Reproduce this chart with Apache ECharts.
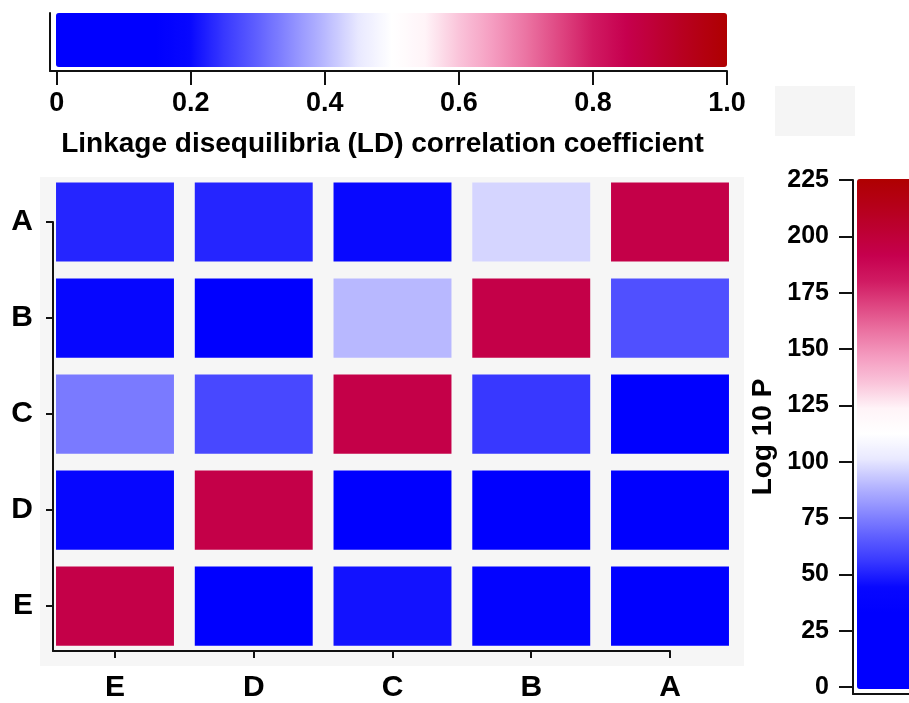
<!DOCTYPE html>
<html>
<head>
<meta charset="utf-8">
<script src="https://cdn.jsdelivr.net/npm/echarts@6/dist/echarts.min.js"></script>
<style>
html,body{margin:0;padding:0;background:#ffffff;}
#chart{width:909px;height:703px;}
</style>
</head>
<body>
<div id="chart"></div>
<script>
// ---- data ----
const xCategories = ['E', 'D', 'C', 'B', 'A'];
const yCategories = ['A', 'B', 'C', 'D', 'E'];
// LD correlation coefficient, rows follow yCategories (top to bottom), columns follow xCategories
const ldRowA = [0.23, 0.23, 0.20, 0.43, 0.86];
const ldRowB = [0.19, 0.12, 0.40, 0.86, 0.28];
const ldRowC = [0.33, 0.27, 0.86, 0.25, 0.10];
const ldRowD = [0.19, 0.86, 0.14, 0.12, 0.08];
const ldRowE = [0.86, 0.10, 0.21, 0.17, 0.06];
const ldRows = [ldRowA, ldRowB, ldRowC, ldRowD, ldRowE];
const ldTicks = [0, 0.2, 0.4, 0.6, 0.8, 1.0];
const ldTickLabels = ['0', '0.2', '0.4', '0.6', '0.8', '1.0'];
const logPTicks = [0, 25, 50, 75, 100, 125, 150, 175, 200, 225];
const colorScale = [
  '#0000ff', '#0000ff', '#0000ff', '#0000ff', '#0808ff', '#3838ff', '#6060ff',
  '#8c8cff', '#b8b8ff', '#e8e8ff', '#ffffff', '#fff4f8', '#fac4da', '#f59dc1',
  '#eb74a3', '#df4782', '#d01a62', '#c6004e', '#bd0032', '#b50018', '#af0000'
];

const cells = [];
ldRows.forEach(function (row, yi) {
  row.forEach(function (v, xi) { cells.push([xi, yi, v]); });
});

const FONT = '"Liberation Sans", Arial, sans-serif';
const axisLineStyle = { color: '#111', width: 2 };

const chart = echarts.init(document.getElementById('chart'), null, { renderer: 'canvas' });
chart.setOption({
  animation: false,
  backgroundColor: '#ffffff',
  graphic: [{
    type: 'rect', left: 775, top: 86, shape: { width: 80, height: 50 },
    style: { fill: '#f5f5f5' }, silent: true, z: -10
  }],
  grid: [
    { left: 53, top: 222, right: 239, bottom: 48 },            // main axes
    { left: 50, top: 13, right: 182, bottom: 632 },            // top colour bar axis
    { left: 853, top: 180, right: 0, bottom: 9 },              // right colour bar axis
    { left: 40, top: 177, right: 165, bottom: 37, show: true,  // plot background
      backgroundColor: '#f6f6f6', borderWidth: 0 }
  ],
  xAxis: [
    {
      gridIndex: 0, type: 'value', min: -0.4468, max: 4,
      splitLine: { show: false },
      axisLine: { show: true, onZero: false, lineStyle: axisLineStyle },
      axisTick: { show: true, length: 7, lineStyle: axisLineStyle, customValues: [0, 1, 2, 3, 4] },
      axisLabel: {
        customValues: [0, 1, 2, 3, 4], margin: 22,
        formatter: function (v) { return xCategories[Math.round(v)]; },
        color: '#000', fontSize: 30, fontWeight: 'bold', fontFamily: FONT
      }
    },
    {
      gridIndex: 1, type: 'value', min: -0.01, max: 1,
      splitLine: { show: false },
      axisLine: { show: true, onZero: false, lineStyle: axisLineStyle },
      axisTick: { show: true, length: 14, lineStyle: axisLineStyle, customValues: ldTicks },
      axisLabel: {
        customValues: ldTicks, margin: 19,
        formatter: function (v) { return ldTickLabels[Math.round(v * 5)]; },
        color: '#000', fontSize: 27, fontWeight: 'bold', fontFamily: FONT
      },
      name: 'Linkage disequilibria (LD) correlation coefficient',
      nameLocation: 'middle', nameGap: 59,
      nameTextStyle: { color: '#000', fontSize: 28, fontWeight: 'bold', fontFamily: FONT, padding: [0, 12, 0, 0] }
    },
    {
      gridIndex: 2, type: 'value', min: 0, max: 1,
      splitLine: { show: false },
      axisLine: { show: true, onZero: false, lineStyle: axisLineStyle },
      axisTick: { show: false }, axisLabel: { show: false }
    },
    { gridIndex: 3, type: 'value', show: false }
  ],
  yAxis: [
    {
      gridIndex: 0, type: 'value', inverse: true, min: 0, max: 4.467,
      splitLine: { show: false },
      axisLine: { show: true, onZero: false, lineStyle: axisLineStyle },
      axisTick: { show: true, length: 7, lineStyle: axisLineStyle, customValues: [0, 1, 2, 3, 4] },
      axisLabel: {
        customValues: [0, 1, 2, 3, 4], margin: 20,
        formatter: function (v) { return yCategories[Math.round(v)]; },
        color: '#000', fontSize: 30, fontWeight: 'bold', fontFamily: FONT
      }
    },
    {
      gridIndex: 1, type: 'value', min: 0, max: 1,
      splitLine: { show: false },
      axisLine: { show: true, onZero: false, lineStyle: axisLineStyle },
      axisTick: { show: false }, axisLabel: { show: false }
    },
    {
      gridIndex: 2, type: 'value', min: -3, max: 225,
      splitLine: { show: false },
      axisLine: { show: true, onZero: false, lineStyle: axisLineStyle },
      axisTick: { show: true, length: 14, lineStyle: axisLineStyle, customValues: logPTicks },
      axisLabel: {
        customValues: logPTicks, margin: 24,
        color: '#000', fontSize: 25, fontWeight: 'bold', fontFamily: FONT
      },
      name: 'Log 10 P', nameLocation: 'middle', nameRotate: 90, nameGap: 76,
      nameTextStyle: { color: '#000', fontSize: 28, fontWeight: 'bold', fontFamily: FONT }
    },
    { gridIndex: 3, type: 'value', show: false }
  ],
  visualMap: [
    {
      type: 'continuous', seriesIndex: 0, dimension: 2, min: 0, max: 1,
      orient: 'horizontal', left: 56, top: 13, padding: 0,
      itemWidth: 54, itemHeight: 671, calculable: false, hoverLink: false,
      inRange: { color: colorScale }, textStyle: { color: 'transparent' }
    },
    {
      type: 'continuous', seriesIndex: 1, dimension: 1, min: 0, max: 225,
      orient: 'vertical', left: 857, top: 179, padding: 0,
      itemWidth: 60, itemHeight: 510, calculable: false, hoverLink: false,
      inRange: { color: colorScale }, textStyle: { color: 'transparent' }
    }
  ],
  series: [
    {
      type: 'custom', xAxisIndex: 0, yAxisIndex: 0, clip: false,
      data: cells,
      encode: { x: 0, y: 1 },
      renderItem: function (params, api) {
        const c = api.coord([api.value(0), api.value(1)]);
        const s = api.size([1, 1]);
        const w = s[0] * 0.85, h = s[1] * 0.825;
        return {
          type: 'rect',
          shape: { x: c[0] - w / 2, y: c[1] - h / 2, width: w, height: h },
          style: { fill: api.visual('color') }
        };
      }
    },
    {
      type: 'custom', xAxisIndex: 2, yAxisIndex: 2, data: [],
      renderItem: function () { return null; }
    }
  ]
});
</script>
</body>
</html>
